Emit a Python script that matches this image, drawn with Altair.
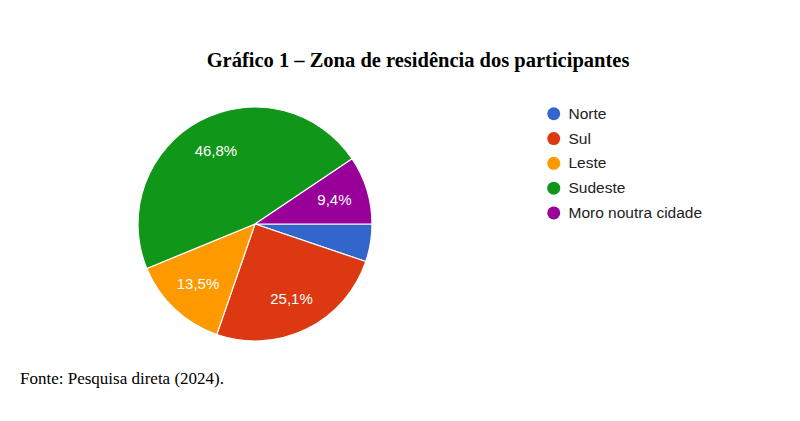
import math
import altair as alt
import pandas as pd

categories = ["Norte", "Sul", "Leste", "Sudeste", "Moro noutra cidade"]
values = [5.2, 25.1, 13.5, 46.8, 9.4]
labels = ["", "25,1%", "13,5%", "46,8%", "9,4%"]
colors = ["#3366CC", "#DC3912", "#FF9900", "#109618", "#990099"]

title_text = "Gráfico 1 – Zona de residência dos participantes"
source_text = "Fonte: Pesquisa direta (2024)."

df = pd.DataFrame({
    "cat": categories,
    "val": values,
    "lab": labels,
    "ord": list(range(len(categories))),
})

CX, CY, R = 247, 216, 117

theta = alt.Theta("val:Q", stack=True,
                  scale=alt.Scale(range=[math.pi / 2, math.pi / 2 + 2 * math.pi]))
color = alt.Color(
    "cat:N",
    scale=alt.Scale(domain=categories, range=colors),
    sort=categories,
    legend=alt.Legend(
        title=None, orient="none", legendX=538, legendY=98,
        symbolType="circle", symbolSize=169, symbolStrokeWidth=0,
        labelFont="Liberation Sans", labelFontSize=15.5, labelColor="#222222",
        labelOffset=7, rowPadding=7.8, padding=0,
    ),
)

base = alt.Chart(df).encode(
    theta=theta,
    order=alt.Order("ord:Q"),
    x=alt.value(CX), y=alt.value(CY),
)

pie = base.mark_arc(radius=R, stroke="white", strokeWidth=1.2).encode(color=color)
text = base.mark_text(radius=83, font="Liberation Sans", fontSize=15,
                      color="white", baseline="middle", align="center").encode(
    text="lab:N")

tdf = pd.DataFrame({"t": [title_text]})
title = alt.Chart(tdf).mark_text(font="Liberation Serif", fontSize=20.5,
                                 fontWeight="bold", color="black",
                                 align="center", baseline="alphabetic").encode(
    text="t:N", x=alt.value(410), y=alt.value(59))

sdf = pd.DataFrame({"t": [source_text]})
source = alt.Chart(sdf).mark_text(font="Liberation Serif", fontSize=17,
                                  color="black", align="left",
                                  baseline="alphabetic").encode(
    text="t:N", x=alt.value(12), y=alt.value(376))

chart = alt.layer(pie, text, title, source).properties(
    width=784, height=405,
    autosize=alt.AutoSizeParams(type="none"),
    padding=0,
).configure_view(stroke=None)

chart.save("out.html", embed_options={"renderer": "svg", "actions": False})
